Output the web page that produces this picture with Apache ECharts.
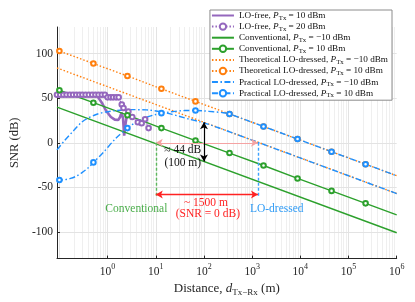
<!DOCTYPE html>
<html><head><meta charset="utf-8">
<script src="https://cdn.jsdelivr.net/npm/echarts@6/dist/echarts.min.js"></script>
<style>html,body{margin:0;padding:0;background:#fff}#c{width:415px;height:302px}</style>
</head><body><div id="c"></div>
<script>
// ---------- data (distance in m, SNR in dB) ----------
const xRange = [0.0891, 1e6];
const yRange = [-130, 130];
const xTickExp = [0, 1, 2, 3, 4, 5, 6];
const yTicks = [-100, -50, 0, 50, 100];

// LO-free, P = 10 dBm (solid purple)
const loFree10D = [0.0891, 0.25, 0.5, 0.6, 0.76, 0.93, 1.17, 1.41, 1.66, 1.82, 1.95, 2.09, 2.21, 2.34, 2.51, 2.69];
const loFree10V = [53, 53, 53, 53, 45, 36, 29, 26, 25.5, 29, 34, 28, 8, 20, 31, 33];

// LO-free, P = 20 dBm (dotted purple with markers)
const loFree20D = [0.0891, 0.104, 0.121, 0.141, 0.165, 0.192, 0.224, 0.26, 0.3, 0.35, 0.41, 0.48, 0.56, 0.65, 0.76, 0.88,
                   1.0, 1.15, 1.3, 1.5, 1.7, 1.97, 2.14, 2.7, 3.25, 4.25, 5.1, 6.0, 7.1];
const loFree20V = [54, 54, 54, 54, 54, 54, 54, 54, 54, 54, 54, 54, 54, 54, 54, 54,
                   51, 51, 51, 51, 51, 43, 39, 35, 29, 23, 22, 26.5, 16.5];

// marker distances shared by the marked straight/curved series
const markD = [0.1, 0.508, 2.58, 13.1, 66.7, 339, 1722, 8750, 44460, 226000];

// Conventional, P = -10 dBm
const conv10mD = [0.0891, 1e6];
const conv10mV = [40, -101];
// Conventional, P = 10 dBm
const conv10D = [0.0891, 1e6];
const conv10V = [60, -81];
const conv10MarkV = [59, 45, 31, 16.5, 2.5, -11.5, -25.5, -40, -54, -68];

// Theoretical LO-dressed, P = -10 dBm
const theo10mD = [0.0891, 1e6];
const theo10mV = [84, -57];
// Theoretical LO-dressed, P = 10 dBm
const theo10D = [0.0891, 1e6];
const theo10V = [104, -37];
const theo10MarkV = [103, 89, 75, 60.6, 46.5, 32.4, 18.3, 4.2, -10, -24];

// Practical LO-dressed, P = -10 dBm
const prac10mD = [0.0891, 0.126, 0.2, 0.282, 0.372, 0.562, 0.891, 1.58, 3.16, 6.31, 12.6, 20, 31.6, 50.1, 79.4, 126, 200, 398, 1000, 1e4, 1e5, 1e6];
const prac10mV = [-8, 2, 14, 22.5, 27, 31.5, 34.5, 36.3, 37.2, 37, 35, 32.5, 29.5, 26.5, 23.8, 20.6, 16.9, 11, 3, -17, -37, -57];
// Practical LO-dressed, P = 10 dBm
const prac10D = [0.0891, 0.126, 0.17, 0.224, 0.295, 0.398, 0.794, 1.48, 3.98, 6.31, 10, 25.1, 39.8, 100, 158, 251, 1e6];
const prac10V = [-42, -41.5, -40, -37.5, -33.5, -28, -11.5, 5, 23.5, 28.5, 31.8, 35.3, 36.2, 35.8, 34.8, 33.8, -37];
const prac10MarkV = [-41.8, -22, 16.5, 33.3, 36.3, 32.3, 18.3, 4.2, -10, -24];

// annotations
const crossD = [10, 1320];          // SNR = 0 dB crossings (conventional, LO-dressed)
const gapD = 100, gapV = [23, -21]; // ~44 dB gap at 100 m
const spanV = -58, dropV = -60;

// ---------- chart ----------
const L = Math.log10;
const FONT = 'Liberation Serif';
const COL = {purple: '#9467bd', green: '#2ca02c', orange: '#ff7f0e', blue: '#1e90ff'};
const names = ['s1', 's2', 's3', 's4', 's5', 's6', 's7', 's8'];
const labels = {
  s1: ['LO-free, ', '10'], s2: ['LO-free, ', '20'],
  s3: ['Conventional, ', '\u221210'], s4: ['Conventional, ', '10'],
  s5: ['Theoretical LO-dressed, ', '\u221210'], s6: ['Theoretical LO-dressed, ', '10'],
  s7: ['Practical LO-dressed, ', '\u221210'], s8: ['Practical LO-dressed, ', '10']
};
function pts(ds, vs) { return ds.map((d, i) => [L(d), vs[i]]); }
function marked(cd, cv, md, mv) {
  const a = cd.map((d, i) => ({value: [L(d), cv[i]], symbol: 'none'}));
  const b = md.map((d, i) => ({value: [L(d), mv[i]]}));
  return a.concat(b).sort((p, q) => p.value[0] - q.value[0]);
}
const DASHDOT = [6, 2.5, 1.5, 2.5];
const DOT = [1.5, 2];
function ser(name, data, color, type, width, sym) {
  return {
    name, type: 'line', data, z: 3, silent: true, animation: false,
    symbol: sym ? 'emptyCircle' : 'none', showSymbol: !!sym, symbolSize: 4.6,
    lineStyle: {color, width, type},
    itemStyle: {color, borderColor: color, borderWidth: 1}
  };
}
const series = [
  ser('s1', pts(loFree10D, loFree10V), COL.purple, 'solid', 2.6, false),
  ser('s2', loFree20D.map((d, i) => [L(d), loFree20V[i]]), COL.purple, DOT, 1.2, true),
  ser('s3', pts(conv10mD, conv10mV), COL.green, 'solid', 1.4, false),
  ser('s4', marked(conv10D, conv10V, markD, conv10MarkV), COL.green, 'solid', 1.4, true),
  ser('s5', pts(theo10mD, theo10mV), COL.orange, DOT, 1.4, false),
  ser('s6', marked(theo10D, theo10V, markD, theo10MarkV), COL.orange, DOT, 1.4, true),
  ser('s7', pts(prac10mD, prac10mV), COL.blue, DASHDOT, 1.4, false),
  ser('s8', marked(prac10D, prac10V, markD, prac10MarkV), COL.blue, DASHDOT, 1.4, true)
];
series[6].smooth = 0.3;
series[7].smooth = 0.3;

// grid lines
const gridX = [];
for (let n = -2; n <= 5; n++) for (let k = 1; k <= 9; k++) {
  const v = n + L(k);
  if (v > L(xRange[0]) + 0.005 && v < 6 - 0.005) gridX.push({v, major: k === 1});
}
const gridData = gridX.map(g => ({xAxis: g.v, lineStyle: {color: g.major ? '#e3e3e3' : '#efefef', width: 1, type: 'solid'}}))
  .concat(yTicks.map(v => ({yAxis: v, lineStyle: {color: '#e3e3e3', width: 1, type: 'solid'}})));
series.push({
  type: 'line', data: [], z: 0, silent: true, animation: false,
  markLine: {silent: true, animation: false, symbol: ['none', 'none'], label: {show: false}, z: 0, data: gridData}
});

const xa = L(crossD[0]), xb = L(crossD[1]);
function seg(p, q, color, width, type, arrows) {
  return [{coord: p, symbol: arrows ? 'arrow' : 'none', lineStyle: {color, width, type}},
          {coord: q, symbol: arrows ? 'arrow' : 'none'}];
}
function txt(x, y, text, color) {
  return {coord: [x, y], symbol: 'circle', symbolSize: 0,
    label: {show: true, position: 'inside', formatter: text, color, fontFamily: FONT, fontSize: 11.5}};
}
series.push({
  type: 'line', data: [], z: 6, silent: true, animation: false,
  markLine: {silent: true, animation: false, symbolSize: [6, 7], label: {show: false}, z: 6,
    data: [
      seg([xa, 0], [xb, 0], '#f5a3a3', 1.2, 'solid', true),
      seg([L(gapD), gapV[0]], [L(gapD), gapV[1]], '#000000', 1.2, 'solid', true),
      seg([xa, 0], [xa, dropV], '#5cb85c', 1.4, [3, 2], false),
      seg([xb, 0], [xb, dropV], '#3ea2ff', 1.4, [3, 2], false),
      seg([xa, spanV], [xb, spanV], '#ff2222', 1.4, 'solid', true)
    ]},
  markPoint: {silent: true, animation: false, z: 7,
    data: [
      txt(0.597, -74.3, 'Conventional', '#4cae4c'),
      txt(3.51, -74.3, 'LO-dressed', '#2f9bf5'),
      txt(2.04, -67.7, '~ 1500 m', '#ff2222'),
      txt(2.08, -79.6, '(SNR = 0 dB)', '#ff2222'),
      txt(1.56, -7.7, '\u2248 44 dB', '#111'),
      txt(1.56, -23.2, '(100 m)', '#111')
    ]}
});

const option = {
  animation: false,
  backgroundColor: '#fff',
  textStyle: {fontFamily: FONT},
  grid: {left: 47, right: 18.3, top: 27, bottom: 40, containLabel: false},
  xAxis: {
    type: 'value', min: L(xRange[0]), max: 6,
    name: '{n|Distance, }{i|d}{s|Tx\u2212Rx}{n| (m)}', nameLocation: 'middle', nameGap: 19,
    nameTextStyle: {rich: {
      n: {fontFamily: FONT, fontSize: 13, color: '#262626', lineHeight: 16},
      i: {fontFamily: FONT, fontSize: 13, fontStyle: 'italic', color: '#262626', lineHeight: 16},
      s: {fontFamily: FONT, fontSize: 9, color: '#262626', verticalAlign: 'bottom', lineHeight: 9}}},
    axisLine: {show: true, onZero: false, lineStyle: {color: '#262626', width: 1}},
    axisTick: {show: true, inside: true, length: 3, customValues: xTickExp, lineStyle: {color: '#262626'}},
    axisLabel: {show: true, margin: 4, customValues: xTickExp,
      formatter: v => '{b|10}{s|' + Math.round(v) + '}',
      rich: {
        b: {fontFamily: FONT, fontSize: 11.5, color: '#262626', lineHeight: 18},
        s: {fontFamily: FONT, fontSize: 8, color: '#262626', verticalAlign: 'top', lineHeight: 9}}},
    splitLine: {show: false}
  },
  yAxis: {
    type: 'value', min: yRange[0], max: yRange[1],
    name: 'SNR (dB)', nameLocation: 'middle', nameGap: 28,
    nameTextStyle: {fontFamily: FONT, fontSize: 12.5, color: '#262626'},
    axisLine: {show: true, onZero: false, lineStyle: {color: '#262626', width: 1}},
    axisTick: {show: true, inside: true, length: 3, customValues: yTicks, lineStyle: {color: '#262626'}},
    axisLabel: {show: true, margin: 4, customValues: yTicks, fontFamily: FONT, fontSize: 11.5, color: '#262626',
      formatter: v => String(v)},
    splitLine: {show: false}
  },
  legend: {
    orient: 'vertical', right: 23, top: 10, itemWidth: 22, itemHeight: 8, itemGap: 0.6,
    padding: [1, 4, 1, 1], borderColor: '#8c8c8c', borderWidth: 1, backgroundColor: '#fff',
    selectedMode: false,
    data: names.map(n => ({name: n, itemStyle: (n === 's1' || n === 's3' || n === 's5' || n === 's7') ? {opacity: 0} : undefined})),
    formatter: n => '{n|' + labels[n][0] + '}{i|P}{s|Tx}{n| = ' + labels[n][1] + ' dBm}',
    textStyle: {fontFamily: FONT, fontSize: 9.2, color: '#111', rich: {
      n: {fontFamily: FONT, fontSize: 9.2, color: '#111', lineHeight: 12},
      i: {fontFamily: FONT, fontSize: 9.2, fontStyle: 'italic', color: '#111', lineHeight: 12},
      s: {fontFamily: FONT, fontSize: 6.8, color: '#111', verticalAlign: 'bottom', lineHeight: 8}}}
  },
  series
};
const chart = echarts.init(document.getElementById('c'), null, {renderer: 'canvas'});
chart.setOption(option);
</script></body></html>
